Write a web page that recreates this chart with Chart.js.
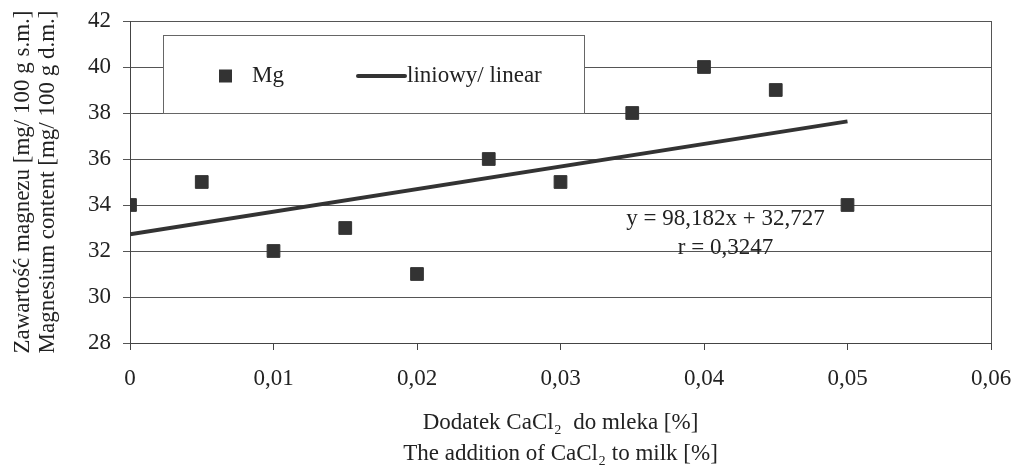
<!DOCTYPE html>
<html>
<head>
<meta charset="utf-8">
<script src="https://cdn.jsdelivr.net/npm/chart.js@4/dist/chart.umd.min.js"></script>
<style>
  body { margin: 0; background: #fff; }
  #canCon { width: 1014px; height: 466px; }
</style>
</head>
<body>
<div id="canCon"><canvas id="myChart"></canvas></div>
<script>
// values
let doseX = [0, 0.005, 0.01, 0.015, 0.02, 0.025, 0.03, 0.035, 0.04, 0.045, 0.05];
let mgY = [34, 35, 32, 33, 31, 36, 35, 38, 40, 39, 34];
let trendX = [0, 0.05];
let trendY = [32.727, 37.636];
let xTickLabels = ['0', '0,01', '0,02', '0,03', '0,04', '0,05', '0,06'];
let yTickLabels = ['28', '30', '32', '34', '36', '38', '40', '42'];
let eqLines = ['y = 98,182x + 32,727', 'r = 0,3247'];

let ink = '#222';
let serif = "'Liberation Serif', 'Times New Roman', serif";

let mgPoints = doseX.map(function (x, i) { return { x: x, y: mgY[i] }; });
let trendPoints = trendX.map(function (x, i) { return { x: x, y: trendY[i] }; });

// legend box inside the plot, equation text and right frame line
let extras = {
    id: 'extras',
    afterDraw: function (chart) {
        let ctx = chart.ctx;
        let a = chart.chartArea;
        let sx = chart.scales.x, sy = chart.scales.y;
        ctx.save();

        // right border
        ctx.strokeStyle = '#555';
        ctx.lineWidth = 1;
        ctx.beginPath();
        ctx.moveTo(Math.round(a.right) + 0.5, a.top);
        ctx.lineTo(Math.round(a.right) + 0.5, a.bottom);
        ctx.stroke();

        // legend box
        let bx = a.left + 33, by = a.top + 14, bw = 421, bh = 78;
        ctx.fillStyle = '#fff';
        ctx.fillRect(bx, by, bw, bh);
        ctx.strokeStyle = '#666';
        ctx.strokeRect(bx + 0.5, by + 0.5, bw, bh);

        let ds = chart.data.datasets;
        let cy = by + 41;
        ctx.fillStyle = ds[0].backgroundColor;
        ctx.fillRect(bx + 56, cy - 6.5, 13, 13);
        ctx.font = '23px ' + serif;
        ctx.textBaseline = 'middle';
        ctx.textAlign = 'left';
        ctx.fillStyle = ink;
        ctx.fillText(ds[0].label, bx + 89, cy);

        ctx.strokeStyle = ds[1].borderColor;
        ctx.lineWidth = 4;
        ctx.lineCap = 'round';
        ctx.beginPath();
        ctx.moveTo(bx + 195, cy);
        ctx.lineTo(bx + 242, cy);
        ctx.stroke();
        ctx.fillText(ds[1].label, bx + 244, cy);

        // regression equation
        ctx.textAlign = 'center';
        let ex = sx.getPixelForValue(0.0415);
        ctx.fillText(eqLines[0], ex, sy.getPixelForValue(33.4));
        ctx.fillText(eqLines[1], ex, sy.getPixelForValue(32.13));
        ctx.restore();
    }
};

Chart.defaults.font.family = serif;
Chart.defaults.font.size = 23;
Chart.defaults.color = ink;

let myChart = new Chart('myChart', {
    type: 'scatter',
    data: {
        datasets: [{
            label: 'Mg',
            data: mgPoints,
            pointStyle: 'rect',
            pointRadius: 9,
            pointHoverRadius: 9,
            backgroundColor: '#333',
            borderColor: '#333',
            borderWidth: 1
        },
        {
            type: 'line',
            label: 'liniowy/ linear',
            data: trendPoints,
            borderColor: '#333',
            borderWidth: 4,
            pointRadius: 0,
            fill: false
        }]
    },
    options: {
        responsive: true,
        maintainAspectRatio: false,
        animation: false,
        layout: { padding: { left: 0, top: 21, right: 23, bottom: 0 } },
        plugins: {
            legend: { display: false },
            tooltip: { enabled: false }
        },
        scales: {
            x: {
                type: 'linear',
                min: 0,
                max: 0.06,
                afterFit: function (s) {
                    s.height = 123;
                    s.paddingLeft = 0;
                    s.paddingRight = 0;
                },
                ticks: {
                    stepSize: 0.01,
                    padding: 15,
                    maxRotation: 0,
                    callback: function (v, i) { return xTickLabels[i]; }
                },
                grid: { drawOnChartArea: false, tickLength: 7, color: '#444' },
                border: { color: '#444' },
                title: {
                    display: true,
                    text: ['Dodatek CaCl\u2082  do mleka [%]', 'The addition of CaCl\u2082 to milk [%]'],
                    font: { size: 23, lineHeight: 1.37 },
                    padding: { top: 0, bottom: -4 }
                }
            },
            y: {
                min: 28,
                max: 42,
                afterFit: function (s) {
                    s.width = 130;
                    s.paddingTop = 0;
                    s.paddingBottom = 0;
                },
                ticks: {
                    stepSize: 2,
                    padding: 12,
                    callback: function (v, i) { return yTickLabels[i]; }
                },
                grid: { color: '#555', tickLength: 7 },
                border: { color: '#444' },
                title: {
                    display: true,
                    text: ['Zawartość magnezu [mg/ 100 g s.m.]', 'Magnesium content [mg/ 100 g d.m.]'],
                    font: { size: 23, lineHeight: 1.1 },
                    padding: { top: 10, bottom: 0 }
                }
            }
        }
    },
    plugins: [extras]
});
</script>
</body>
</html>
